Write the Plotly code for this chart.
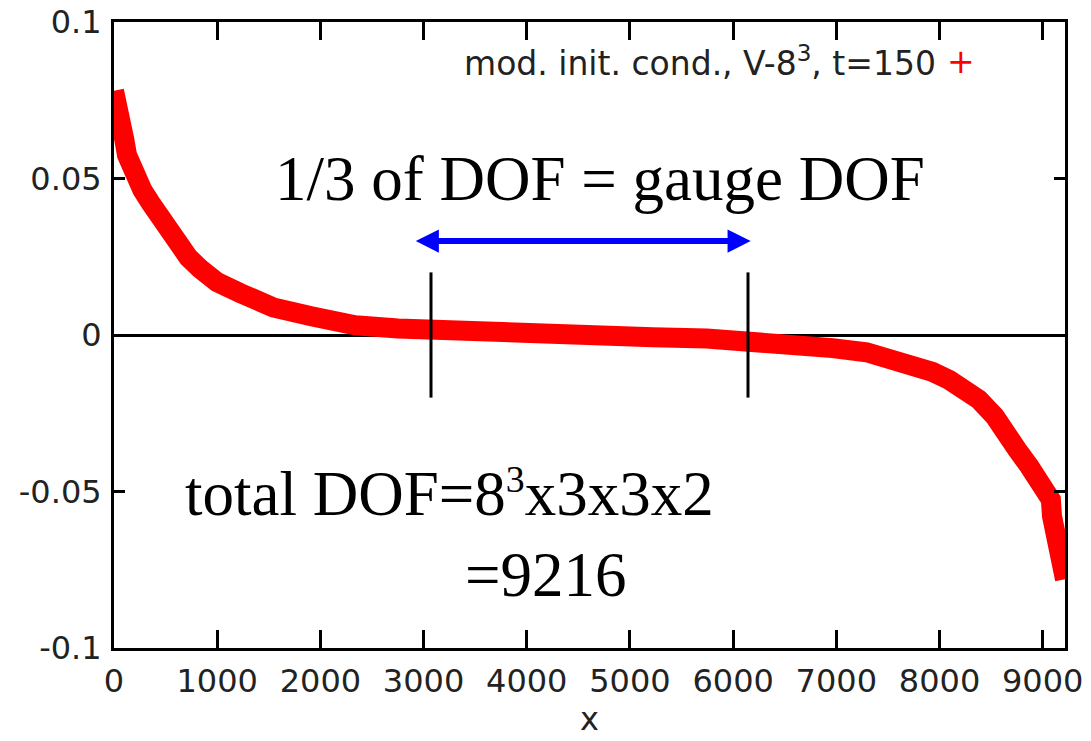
import plotly.graph_objects as go

# Sorted values along the degree-of-freedom index
dof_index = [0, 25, 50, 100, 126, 189, 274, 353, 474, 547,
             721, 837, 999, 1224, 1544, 1912, 2337, 2753, 3063, 3470,
             3993, 4612, 5222, 5744, 6160, 6480, 6964, 7293, 7545, 7777,
             7932, 8096, 8261, 8380, 8535, 8670, 8752, 8871, 9003, 9079,
             9090, 9120, 9164, 9206, 9216]
values = [0.0780, 0.0752, 0.0688, 0.0624, 0.0575, 0.0512, 0.0464, 0.0423, 0.0362, 0.0325,
          0.0248, 0.0211, 0.0169, 0.0134, 0.0088, 0.0060, 0.0031, 0.0021, 0.0016, 0.0011,
          0.0004, -0.0003, -0.0007, -0.0011, -0.0017, -0.0029, -0.0042, -0.0055, -0.0078, -0.0097,
          -0.0118, -0.0144, -0.0170, -0.0206, -0.0260, -0.0313, -0.0366, -0.0420, -0.0472, -0.0526,
          -0.0579, -0.0632, -0.0685, -0.0739, -0.0780]

x_ticks = [0, 1000, 2000, 3000, 4000, 5000, 6000, 7000, 8000, 9000]
y_ticks = [-0.1, -0.05, 0, 0.05, 0.1]
y_tick_text = ["-0.1", "-0.05", "0", "0.05", "0.1"]

total_dof = 9216
gauge_bounds = [3072, 6144]          # one third of the DOF
gauge_bar_y = [-0.02, 0.02]
arrow_x = [2910, 6170]
arrow_y = 0.03

legend_label = "mod. init. cond., V-8<sup>3</sup>, t=150"
total_label = "total DOF=8<span style='font-size:54px'><sup>3</sup></span>x3x3x2"

sans = "DejaVu Sans"
serif = "Liberation Serif"
ink = "#222222"

fig = go.Figure()
fig.add_trace(go.Scatter(
    x=dof_index, y=values, mode="lines",
    line=dict(color="#ff0000", width=20),
    cliponaxis=False, showlegend=False,
))

# gauge-DOF markers
for xb in gauge_bounds:
    fig.add_shape(type="line", xref="x", yref="y", x0=xb, x1=xb,
                  y0=gauge_bar_y[0], y1=gauge_bar_y[1],
                  line=dict(color="black", width=3), layer="above")

# double-headed arrow spanning the gauge DOF
fig.add_annotation(x=arrow_x[1], y=arrow_y, ax=arrow_x[0], ay=arrow_y,
                   xref="x", yref="y", axref="x", ayref="y", text="",
                   showarrow=True, arrowhead=2, startarrowhead=2,
                   arrowside="end+start", arrowwidth=6,
                   arrowsize=0.77, startarrowsize=0.77, arrowcolor="#0000ff")

fig.add_annotation(x=1540, y=0.050, xref="x", yref="y", text="1/3 of DOF = gauge DOF",
                   showarrow=False, xanchor="left", yanchor="middle",
                   font=dict(family=serif, size=63, color="black"))
fig.add_annotation(x=668, y=-0.0506, xref="x", yref="y", text=total_label,
                   showarrow=False, xanchor="left", yanchor="middle",
                   font=dict(family=serif, size=63, color="black"))
fig.add_annotation(x=3380, y=-0.0768, xref="x", yref="y", text="=" + str(total_dof),
                   showarrow=False, xanchor="left", yanchor="middle",
                   font=dict(family=serif, size=63, color="black"))

# key
fig.add_annotation(x=0.866, y=0.9366, xref="paper", yref="paper", text=legend_label,
                   showarrow=False, xanchor="right", yanchor="middle",
                   font=dict(family=sans, size=33, color=ink))
fig.add_annotation(x=0.891, y=0.9366, xref="paper", yref="paper", text="+",
                   showarrow=False, xanchor="center", yanchor="middle",
                   font=dict(family=sans, size=33, color="#ff0000"))

fig.update_xaxes(range=[0, total_dof], tickvals=x_ticks, ticks="inside", ticklen=18,
                 tickwidth=3, tickcolor="black", showline=True, linewidth=3,
                 linecolor="black", mirror="ticks", showgrid=False, zeroline=False,
                 ticklabelstandoff=3, automargin=False,
                 tickfont=dict(family=sans, size=32, color=ink),
                 title=dict(text="x", font=dict(family=sans, size=32, color=ink),
                            standoff=6))
fig.update_yaxes(range=[-0.1, 0.1], tickvals=y_ticks, ticktext=y_tick_text,
                 ticks="inside", ticklen=11, tickwidth=3, tickcolor="black",
                 showline=True, linewidth=3, linecolor="black", mirror="ticks",
                 showgrid=False, zeroline=True, zerolinecolor="black", zerolinewidth=3,
                 ticklabelstandoff=3, automargin=False,
                 tickfont=dict(family=sans, size=32, color=ink))

fig.update_layout(width=1091, height=741, paper_bgcolor="white", plot_bgcolor="white",
                  margin=dict(l=114, r=26, t=22, b=93, autoexpand=False),
                  showlegend=False)

fig.write_html("out.html")
